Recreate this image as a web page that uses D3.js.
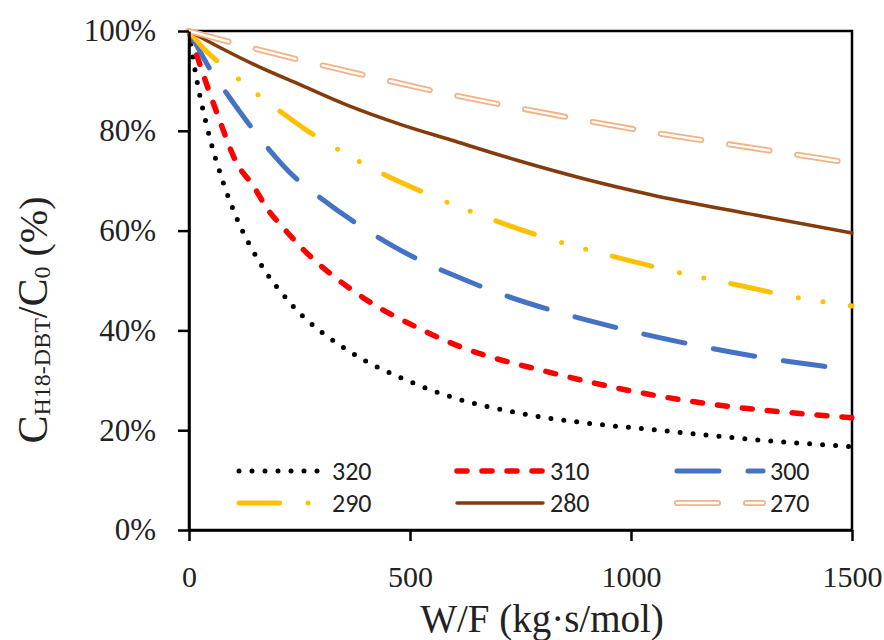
<!DOCTYPE html>
<html>
<head>
<meta charset="utf-8">
<script src="https://cdn.jsdelivr.net/npm/d3@7"></script>
<style>
  body { margin: 0; background: #fff; }
  svg { display: block; }
</style>
</head>
<body>
<div id="chart"></div>
<script>
// Dữ liệu: W/F (kg·s/mol) và C/C0 (%)
const series = ["320", "310", "300", "290", "280", "270"];

const wf320 = [0, 13, 43, 76, 107, 161, 231, 365, 493, 603, 742, 893, 1050, 1294, 1500];
const c320  = [100, 92.5, 80, 70, 62.7, 53.5, 45.3, 35.7, 30, 26.4, 23.5, 21.5, 20.1, 18, 16.7];

const wf310 = [0, 25, 66, 108, 146, 176, 217, 251, 380, 530, 606, 825, 1040, 1200, 1350, 1500];
const c310  = [100, 93.2, 82.9, 73.5, 68.9, 64.5, 60.2, 56.9, 47.4, 40, 37, 31.4, 27.2, 25, 23.6, 22.5];

const wf300 = [0, 20, 50, 82, 142, 176, 244, 297, 376, 425, 512, 614, 712, 814, 965, 1120, 1282, 1437, 1500];
const c300  = [100, 96.7, 92, 87.9, 80.6, 76.8, 70.3, 66.6, 61.6, 58.8, 54.5, 50.5, 47.1, 44.2, 40.6, 37.5, 34.8, 32.8, 32.1];

const wf290 = [0, 30, 74, 116, 161, 206, 263, 342, 440, 535, 644, 795, 961, 1118, 1230, 1388, 1500];
const c290  = [100, 96.8, 93.2, 90.1, 86.9, 83.9, 80.3, 76, 71.3, 67.5, 63.6, 58.9, 54.8, 51.4, 49.3, 46.4, 44.9];

const wf280 = [0, 59, 142, 255, 365, 478, 591, 742, 893, 1045, 1271, 1500];
const c280  = [100, 97.2, 93.5, 89.1, 84.9, 81.3, 78.2, 74.1, 70.4, 67.2, 63.3, 59.5];

const wf270 = [0, 100, 255, 410, 569, 727, 882, 1041, 1199, 1354, 1500];
const c270  = [100, 97.6, 94.1, 90.9, 87.7, 84.9, 82.3, 79.8, 77.6, 75.5, 73.5];

const xTicks = [0, 500, 1000, 1500];
const yTicks = [0, 20, 40, 60, 80, 100];

const dataBySeries = {
    "320": [wf320, c320], "310": [wf310, c310], "300": [wf300, c300],
    "290": [wf290, c290], "280": [wf280, c280], "270": [wf270, c270]
};

// Kiểu đường cho từng chuỗi
const styles = {
    "320": { color: "#000000", width: 5,   dash: "0 13" },
    "310": { color: "#FF0000", width: 5.5, dash: "10 15" },
    "300": { color: "#4472C4", width: 5,   dash: "42 29" },
    "290": { color: "#FFC000", width: 5,   dash: "40.6 28.5 0 25 0 27.5" },
    "280": { color: "#843C0C", width: 3.5, dash: null },
    "270": { color: "#F4B183", width: 6,   dash: "41 28", inner: "#ffffff", innerWidth: 2.4 }
};

const width = 884, height = 640;
const plot = { left: 189, right: 852, top: 31, bottom: 530 };

const svg = d3.select("#chart").append("svg")
    .attr("width", width)
    .attr("height", height);

const x = d3.scaleLinear().domain([0, 1500]).range([plot.left, plot.right]);
const y = d3.scaleLinear().domain([0, 100]).range([plot.bottom, plot.top]);

// Khung
svg.append("rect")
    .attr("x", plot.left).attr("y", plot.top)
    .attr("width", plot.right - plot.left)
    .attr("height", plot.bottom - plot.top)
    .attr("fill", "none")
    .attr("stroke", "#000")
    .attr("stroke-width", 2.5);

const line = d3.line()
    .x(d => x(d[0]))
    .y(d => y(d[1]))
    .curve(d3.curveMonotoneX);

function drawPath(g, pts, st, gen) {
    const p = g.append("path")
        .attr("d", gen(pts))
        .attr("fill", "none")
        .attr("stroke", st.color)
        .attr("stroke-width", st.width)
        .attr("stroke-linecap", "round")
        .attr("stroke-linejoin", "round");
    if (st.dash) p.attr("stroke-dasharray", st.dash);
    if (st.inner) {
        const q = g.append("path")
            .attr("d", gen(pts))
            .attr("fill", "none")
            .attr("stroke", st.inner)
            .attr("stroke-width", st.innerWidth)
            .attr("stroke-linecap", "round");
        if (st.dash) q.attr("stroke-dasharray", st.dash);
    }
}

// Các đường cong
const linesG = svg.append("g");
series.forEach(s => {
    const [wf, c] = dataBySeries[s];
    const pts = wf.map((w, i) => [w, c[i]]);
    drawPath(linesG, pts, styles[s], line);
});

// Trục x
const xAxis = svg.append("g")
    .attr("transform", `translate(0,${plot.bottom})`)
    .call(d3.axisBottom(x).tickValues(xTicks).tickSize(11).tickSizeOuter(0).tickPadding(25)
        .tickFormat(d3.format("d")));
xAxis.select(".domain").attr("stroke-width", 2.5);
xAxis.selectAll(".tick line").attr("stroke-width", 2.5);
xAxis.selectAll("text")
    .style("font-family", "'Liberation Serif', 'Times New Roman', serif")
    .style("font-size", "30px")
    .attr("fill", "#222");

// Trục y
const yAxis = svg.append("g")
    .attr("transform", `translate(${plot.left},0)`)
    .call(d3.axisLeft(y).tickValues(yTicks).tickSize(11).tickSizeOuter(0).tickPadding(22)
        .tickFormat(d => d + "%"));
yAxis.select(".domain").attr("stroke-width", 2.5);
yAxis.selectAll(".tick line").attr("stroke-width", 2.5);
yAxis.selectAll("text")
    .style("font-family", "'Liberation Serif', 'Times New Roman', serif")
    .style("font-size", "31px")
    .attr("fill", "#222");

// Tiêu đề trục x
svg.append("text")
    .attr("x", 542)
    .attr("y", 632)
    .attr("text-anchor", "middle")
    .style("font-family", "'Liberation Serif', 'Times New Roman', serif")
    .style("font-size", "39px")
    .attr("fill", "#222")
    .text("W/F (kg·s/mol)");

// Tiêu đề trục y (có chỉ số dưới)
const yt = svg.append("text")
    .attr("transform", "translate(47,320) rotate(-90)")
    .attr("text-anchor", "middle")
    .style("font-family", "'Liberation Serif', 'Times New Roman', serif")
    .attr("fill", "#222");
yt.append("tspan").style("font-size", "42px").text("C");
yt.append("tspan").style("font-size", "24px").attr("dy", 3).text("H18-DBT");
yt.append("tspan").style("font-size", "42px").attr("dy", -3).text("/C");
yt.append("tspan").style("font-size", "24px").attr("dy", 3).text("0");
yt.append("tspan").style("font-size", "40px").attr("dy", -3).text("\u00a0(%)");

// Chú giải
const legendCols = [239, 457, 677];
const legendRows = [471, 503];
const legendG = svg.append("g");
const lgLine = d3.line();
series.forEach((s, i) => {
    const lx = legendCols[i % 3];
    const ly = legendRows[Math.floor(i / 3)];
    drawPath(legendG, [[lx, ly], [lx + 86, ly]], styles[s], lgLine);
    legendG.append("text")
        .attr("x", lx + 93)
        .attr("y", ly + 9)
        .style("font-family", "Carlito, 'Liberation Sans Narrow', 'Liberation Sans', Arial, sans-serif")
        .style("font-size", "26px")
        .attr("fill", "#222")
        .text(s);
});
</script>
</body>
</html>
